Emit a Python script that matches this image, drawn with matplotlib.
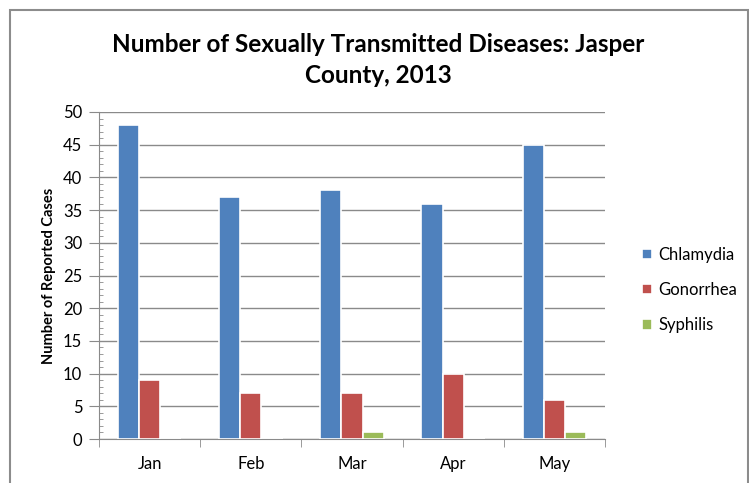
import matplotlib
matplotlib.use("Agg")
import matplotlib.pyplot as plt
import numpy as np
from matplotlib.patches import Rectangle

months = ["Jan", "Feb", "Mar", "Apr", "May"]
chlamydia = [48, 37, 38, 36, 45]
gonorrhea = [9, 7, 7, 10, 6]
syphilis = [0, 0, 1, 0, 1]
series_names = ["Chlamydia", "Gonorrhea", "Syphilis"]
colors = ["#4F81BD", "#C0504D", "#9BBB59"]

plt.rcParams["font.family"] = ["Lato", "DejaVu Sans"]

W, H = 749, 483
fig = plt.figure(figsize=(W / 100, H / 100), dpi=100)

# chart frame (bottom runs off the image)
fig.patches.append(Rectangle((10 / W, -0.05), (738 / W), 1.05 - 10 / H,
                             transform=fig.transFigure, fill=False,
                             edgecolor="#8c8c8c", linewidth=1.5))

ax = fig.add_axes([99 / W, 1 - 439 / H, (605 - 99) / W, (439 - 112) / H])

x = np.arange(len(months))
bw = 0.21
for i, (vals, name) in enumerate(zip([chlamydia, gonorrhea, syphilis], series_names)):
    ax.bar(x + (i - 1) * bw, vals, width=bw, color=colors[i], label=name,
           edgecolor="white", linewidth=1.2, zorder=3)

ax.set_xlim(-0.5, len(months) - 0.5)
ax.set_ylim(0, 50)
ax.set_yticks(np.arange(0, 51, 5))
ax.set_yticks(np.arange(0, 51, 1), minor=True)
ax.yaxis.grid(True, which="major", color="#8a8a8a", linewidth=1)
ax.set_axisbelow(True)

ax.set_xticks(x)
ax.set_xticklabels(months)
ax.set_xticks(np.arange(-0.5, len(months), 1), minor=True)
ax.tick_params(axis="x", which="major", length=0, pad=12, labelsize=12)
ax.tick_params(axis="x", which="minor", length=6, color="#8a8a8a", direction="out")
ax.tick_params(axis="y", which="major", length=7, color="#8a8a8a", direction="out",
               labelsize=12, pad=5)
ax.tick_params(axis="y", which="minor", length=3, color="#8a8a8a", direction="in")

for s in ["top", "right"]:
    ax.spines[s].set_visible(False)
for s in ["left", "bottom"]:
    ax.spines[s].set_color("#8a8a8a")

ax.set_ylabel("Number of Reported Cases", fontsize=10.5, fontweight="bold", labelpad=5)

fig.text(378 / W, 1 - 60 / H, "Number of Sexually Transmitted Diseases: Jasper\nCounty, 2013",
         ha="center", va="center", fontsize=17.5, fontweight="bold", linespacing=1.4)

ax.legend(loc="center left", bbox_to_anchor=(627 / W, 1 - 290 / H),
          bbox_transform=fig.transFigure, frameon=False, fontsize=12,
          handlelength=0.6, handleheight=0.6, handletextpad=0.4, labelspacing=1.15)

fig.savefig("out.png", dpi=100)
